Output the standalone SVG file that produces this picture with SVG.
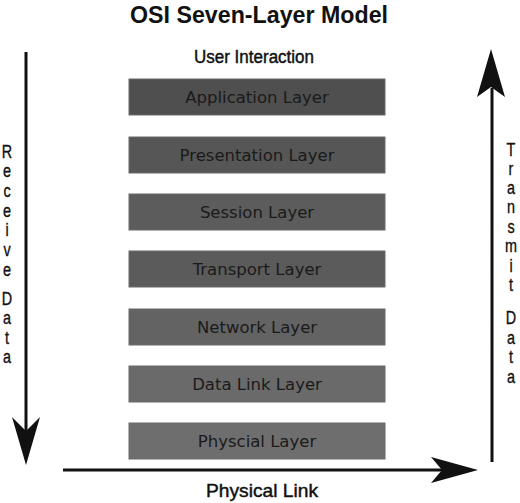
<svg xmlns="http://www.w3.org/2000/svg" width="520" height="503" viewBox="0 0 520 503">
<style>
.layer rect{stroke:#6a6a6a;stroke-width:1}
.layer text{font-family:"DejaVu Sans",sans-serif;font-size:16.5px;fill:#1a1a1a;text-anchor:middle}
.cond{font-family:"Liberation Sans",Arial,sans-serif;fill:#111;text-anchor:middle}
.med{stroke:#111;stroke-width:0.45}
.vert{font-family:"Liberation Sans",Arial,sans-serif;font-size:18px;fill:#111;stroke:#111;stroke-width:0.35;text-anchor:middle}
.shaft{stroke:#111;stroke-width:3;fill:none}
.head{fill:#111}
</style>
<rect width="520" height="503" fill="#fff"/>
<text class="cond" x="259" y="23" font-size="24" font-weight="bold" textLength="258" lengthAdjust="spacingAndGlyphs">OSI Seven-Layer Model</text>
<text class="cond med" x="254" y="63" font-size="18" textLength="120" lengthAdjust="spacingAndGlyphs">User Interaction</text>
<g id="application" class="layer"><rect x="129" y="79" width="256" height="36" fill="#4f4f4f"/><text x="257" y="103">Application Layer</text></g>
<g id="presentation" class="layer"><rect x="129" y="137" width="256" height="36" fill="#565656"/><text x="257" y="161">Presentation Layer</text></g>
<g id="session" class="layer"><rect x="129" y="194" width="256" height="36" fill="#5c5c5c"/><text x="257" y="218">Session Layer</text></g>
<g id="transport" class="layer"><rect x="129" y="251" width="256" height="36" fill="#5b5b5b"/><text x="257" y="275">Transport Layer</text></g>
<g id="network" class="layer"><rect x="129" y="309" width="256" height="36" fill="#636363"/><text x="257" y="333">Network Layer</text></g>
<g id="datalink" class="layer"><rect x="129" y="366" width="256" height="36" fill="#6a6a6a"/><text x="257" y="390">Data Link Layer</text></g>
<g id="physical" class="layer"><rect x="129" y="423" width="256" height="36" fill="#6e6e6e"/><text x="257" y="447">Physcial Layer</text></g>
<g id="connectors">
<line class="shaft" x1="26" y1="52" x2="26" y2="432"/>
<polygon class="head" points="26,465 40,417 26,431 12,417"/>
<line class="shaft" x1="492" y1="462" x2="492" y2="88"/>
<polygon class="head" points="491,49 505,97 491,87 477,97"/>
<line class="shaft" x1="63" y1="470" x2="443" y2="470"/>
<polygon class="head" points="478,470 431,457 442,470 431,483"/>
</g>
<g id="receive-label" class="vert" transform="scale(0.8,1)">
<text x="8.75" y="158">R</text><text x="8.75" y="177">e</text><text x="8.75" y="197">c</text><text x="8.75" y="217">e</text><text x="8.75" y="236">i</text><text x="8.75" y="256">v</text><text x="8.75" y="276">e</text>
<text x="8.75" y="305">D</text><text x="8.75" y="324">a</text><text x="8.75" y="344">t</text><text x="8.75" y="363">a</text>
</g>
<g id="transmit-label" class="vert" transform="scale(0.8,1)">
<text x="638.75" y="156">T</text><text x="638.75" y="175">r</text><text x="638.75" y="194">a</text><text x="638.75" y="213">n</text><text x="638.75" y="233">s</text><text x="638.75" y="252">m</text><text x="638.75" y="272">i</text><text x="638.75" y="291">t</text>
<text x="638.75" y="324">D</text><text x="638.75" y="344">a</text><text x="638.75" y="363">t</text><text x="638.75" y="383">a</text>
</g>
<text class="cond med" x="262" y="497" font-size="19" textLength="112" lengthAdjust="spacingAndGlyphs">Physical Link</text>
</svg>
